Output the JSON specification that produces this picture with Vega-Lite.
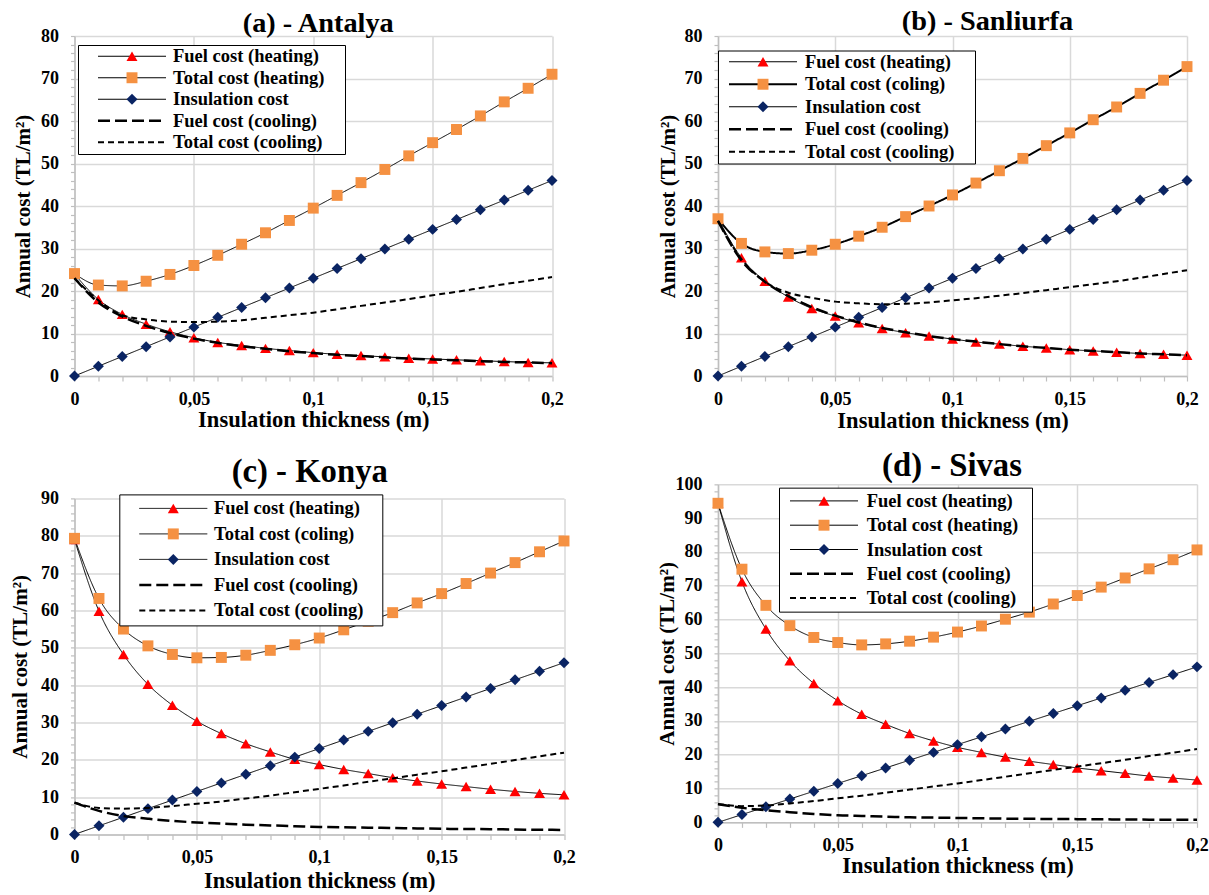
{
  "$schema": "https://vega.github.io/schema/vega-lite/v6.json",
  "background": "white",
  "padding": {"left": 8.5, "top": 6, "right": 0, "bottom": 0},
  "datasets": {
    "antalya": [
      {"thickness": 0, "fuelHeating": 24.0, "totalHeating": 24.1, "insulation": 0, "fuelCooling": 23.0, "totalCooling": 23.0},
      {"thickness": 0.01, "fuelHeating": 18.0, "totalHeating": 21.4, "insulation": 2.3, "fuelCooling": 17.3, "totalCooling": 17.8},
      {"thickness": 0.02, "fuelHeating": 14.5, "totalHeating": 21.2, "insulation": 4.6, "fuelCooling": 14.0, "totalCooling": 14.3},
      {"thickness": 0.03, "fuelHeating": 12.2, "totalHeating": 22.3, "insulation": 6.9, "fuelCooling": 11.8, "totalCooling": 13.3},
      {"thickness": 0.04, "fuelHeating": 10.4, "totalHeating": 23.9, "insulation": 9.2, "fuelCooling": 10.1, "totalCooling": 12.8},
      {"thickness": 0.05, "fuelHeating": 9.0, "totalHeating": 26.0, "insulation": 11.5, "fuelCooling": 8.8, "totalCooling": 12.7},
      {"thickness": 0.06, "fuelHeating": 7.9, "totalHeating": 28.4, "insulation": 13.8, "fuelCooling": 7.8, "totalCooling": 12.8},
      {"thickness": 0.07, "fuelHeating": 7.2, "totalHeating": 31.0, "insulation": 16.1, "fuelCooling": 7.0, "totalCooling": 13.1},
      {"thickness": 0.08, "fuelHeating": 6.5, "totalHeating": 33.7, "insulation": 18.4, "fuelCooling": 6.4, "totalCooling": 13.7},
      {"thickness": 0.09, "fuelHeating": 6.0, "totalHeating": 36.6, "insulation": 20.7, "fuelCooling": 5.8, "totalCooling": 14.3},
      {"thickness": 0.1, "fuelHeating": 5.5, "totalHeating": 39.5, "insulation": 23.0, "fuelCooling": 5.4, "totalCooling": 14.9},
      {"thickness": 0.11, "fuelHeating": 5.1, "totalHeating": 42.5, "insulation": 25.3, "fuelCooling": 5.0, "totalCooling": 15.7},
      {"thickness": 0.12, "fuelHeating": 4.8, "totalHeating": 45.5, "insulation": 27.6, "fuelCooling": 4.7, "totalCooling": 16.5},
      {"thickness": 0.13, "fuelHeating": 4.5, "totalHeating": 48.6, "insulation": 29.9, "fuelCooling": 4.4, "totalCooling": 17.3},
      {"thickness": 0.14, "fuelHeating": 4.2, "totalHeating": 51.8, "insulation": 32.2, "fuelCooling": 4.1, "totalCooling": 18.1},
      {"thickness": 0.15, "fuelHeating": 4.0, "totalHeating": 54.9, "insulation": 34.5, "fuelCooling": 3.9, "totalCooling": 19.0},
      {"thickness": 0.16, "fuelHeating": 3.8, "totalHeating": 58.0, "insulation": 36.8, "fuelCooling": 3.7, "totalCooling": 19.8},
      {"thickness": 0.17, "fuelHeating": 3.6, "totalHeating": 61.2, "insulation": 39.1, "fuelCooling": 3.5, "totalCooling": 20.7},
      {"thickness": 0.18, "fuelHeating": 3.4, "totalHeating": 64.5, "insulation": 41.4, "fuelCooling": 3.3, "totalCooling": 21.6},
      {"thickness": 0.19, "fuelHeating": 3.2, "totalHeating": 67.7, "insulation": 43.7, "fuelCooling": 3.2, "totalCooling": 22.4},
      {"thickness": 0.2, "fuelHeating": 3.1, "totalHeating": 71.0, "insulation": 46.0, "fuelCooling": 3.0, "totalCooling": 23.3}
    ],
    "sanliurfa": [
      {"thickness": 0, "fuelHeating": 37.0, "totalHeating": 37.0, "insulation": 0, "fuelCooling": 36.5, "totalCooling": 36.5},
      {"thickness": 0.01, "fuelHeating": 27.8, "totalHeating": 31.2, "insulation": 2.3, "fuelCooling": 27.2, "totalCooling": 27.5},
      {"thickness": 0.02, "fuelHeating": 22.3, "totalHeating": 29.2, "insulation": 4.6, "fuelCooling": 22.2, "totalCooling": 22.2},
      {"thickness": 0.03, "fuelHeating": 18.6, "totalHeating": 28.8, "insulation": 6.9, "fuelCooling": 18.8, "totalCooling": 19.6},
      {"thickness": 0.04, "fuelHeating": 15.9, "totalHeating": 29.6, "insulation": 9.2, "fuelCooling": 16.2, "totalCooling": 18.4},
      {"thickness": 0.05, "fuelHeating": 14.1, "totalHeating": 31.0, "insulation": 11.5, "fuelCooling": 14.2, "totalCooling": 17.5},
      {"thickness": 0.06, "fuelHeating": 12.5, "totalHeating": 32.9, "insulation": 13.8, "fuelCooling": 12.6, "totalCooling": 17.1},
      {"thickness": 0.07, "fuelHeating": 11.2, "totalHeating": 35.0, "insulation": 16.1, "fuelCooling": 11.3, "totalCooling": 16.9},
      {"thickness": 0.08, "fuelHeating": 10.2, "totalHeating": 37.5, "insulation": 18.4, "fuelCooling": 10.3, "totalCooling": 17.0},
      {"thickness": 0.09, "fuelHeating": 9.4, "totalHeating": 40.0, "insulation": 20.7, "fuelCooling": 9.4, "totalCooling": 17.3},
      {"thickness": 0.1, "fuelHeating": 8.7, "totalHeating": 42.6, "insulation": 23.0, "fuelCooling": 8.7, "totalCooling": 17.8},
      {"thickness": 0.11, "fuelHeating": 8.0, "totalHeating": 45.4, "insulation": 25.3, "fuelCooling": 8.1, "totalCooling": 18.3},
      {"thickness": 0.12, "fuelHeating": 7.5, "totalHeating": 48.3, "insulation": 27.6, "fuelCooling": 7.5, "totalCooling": 18.9},
      {"thickness": 0.13, "fuelHeating": 7.0, "totalHeating": 51.2, "insulation": 29.9, "fuelCooling": 7.0, "totalCooling": 19.5},
      {"thickness": 0.14, "fuelHeating": 6.6, "totalHeating": 54.2, "insulation": 32.2, "fuelCooling": 6.6, "totalCooling": 20.2},
      {"thickness": 0.15, "fuelHeating": 6.2, "totalHeating": 57.2, "insulation": 34.5, "fuelCooling": 6.2, "totalCooling": 20.9},
      {"thickness": 0.16, "fuelHeating": 5.9, "totalHeating": 60.3, "insulation": 36.8, "fuelCooling": 5.9, "totalCooling": 21.6},
      {"thickness": 0.17, "fuelHeating": 5.6, "totalHeating": 63.3, "insulation": 39.1, "fuelCooling": 5.6, "totalCooling": 22.3},
      {"thickness": 0.18, "fuelHeating": 5.3, "totalHeating": 66.5, "insulation": 41.4, "fuelCooling": 5.3, "totalCooling": 23.1},
      {"thickness": 0.19, "fuelHeating": 5.1, "totalHeating": 69.6, "insulation": 43.7, "fuelCooling": 5.1, "totalCooling": 24.0},
      {"thickness": 0.2, "fuelHeating": 4.9, "totalHeating": 72.8, "insulation": 46.0, "fuelCooling": 4.9, "totalCooling": 24.9}
    ],
    "konya": [
      {"thickness": 0, "fuelHeating": 79.0, "totalHeating": 79.3, "insulation": 0, "fuelCooling": 8.5, "totalCooling": 8.5},
      {"thickness": 0.01, "fuelHeating": 59.8, "totalHeating": 63.2, "insulation": 2.3, "fuelCooling": 6.3, "totalCooling": 7.1},
      {"thickness": 0.02, "fuelHeating": 48.2, "totalHeating": 55.0, "insulation": 4.6, "fuelCooling": 4.9, "totalCooling": 6.9},
      {"thickness": 0.03, "fuelHeating": 40.2, "totalHeating": 50.5, "insulation": 6.9, "fuelCooling": 4.2, "totalCooling": 7.1},
      {"thickness": 0.04, "fuelHeating": 34.6, "totalHeating": 48.2, "insulation": 9.2, "fuelCooling": 3.6, "totalCooling": 7.6},
      {"thickness": 0.05, "fuelHeating": 30.3, "totalHeating": 47.3, "insulation": 11.5, "fuelCooling": 3.2, "totalCooling": 8.2},
      {"thickness": 0.06, "fuelHeating": 27.0, "totalHeating": 47.4, "insulation": 13.8, "fuelCooling": 2.9, "totalCooling": 8.8},
      {"thickness": 0.07, "fuelHeating": 24.3, "totalHeating": 48.0, "insulation": 16.1, "fuelCooling": 2.6, "totalCooling": 9.6},
      {"thickness": 0.08, "fuelHeating": 22.1, "totalHeating": 49.3, "insulation": 18.4, "fuelCooling": 2.4, "totalCooling": 10.4},
      {"thickness": 0.09, "fuelHeating": 20.1, "totalHeating": 50.8, "insulation": 20.7, "fuelCooling": 2.2, "totalCooling": 11.3},
      {"thickness": 0.1, "fuelHeating": 18.7, "totalHeating": 52.6, "insulation": 23.0, "fuelCooling": 2.0, "totalCooling": 12.2},
      {"thickness": 0.11, "fuelHeating": 17.4, "totalHeating": 54.8, "insulation": 25.3, "fuelCooling": 1.9, "totalCooling": 13.1},
      {"thickness": 0.12, "fuelHeating": 16.3, "totalHeating": 57.1, "insulation": 27.6, "fuelCooling": 1.8, "totalCooling": 14.1},
      {"thickness": 0.13, "fuelHeating": 15.2, "totalHeating": 59.4, "insulation": 29.9, "fuelCooling": 1.7, "totalCooling": 15.0},
      {"thickness": 0.14, "fuelHeating": 14.3, "totalHeating": 62.0, "insulation": 32.2, "fuelCooling": 1.6, "totalCooling": 16.0},
      {"thickness": 0.15, "fuelHeating": 13.5, "totalHeating": 64.5, "insulation": 34.5, "fuelCooling": 1.5, "totalCooling": 16.9},
      {"thickness": 0.16, "fuelHeating": 12.8, "totalHeating": 67.2, "insulation": 36.8, "fuelCooling": 1.45, "totalCooling": 17.9},
      {"thickness": 0.17, "fuelHeating": 12.1, "totalHeating": 70.0, "insulation": 39.1, "fuelCooling": 1.4, "totalCooling": 18.9},
      {"thickness": 0.18, "fuelHeating": 11.5, "totalHeating": 72.8, "insulation": 41.4, "fuelCooling": 1.3, "totalCooling": 19.9},
      {"thickness": 0.19, "fuelHeating": 11.0, "totalHeating": 75.7, "insulation": 43.7, "fuelCooling": 1.25, "totalCooling": 20.9},
      {"thickness": 0.2, "fuelHeating": 10.6, "totalHeating": 78.6, "insulation": 46.0, "fuelCooling": 1.2, "totalCooling": 21.9}
    ],
    "sivas": [
      {"thickness": 0, "fuelHeating": 94.4, "totalHeating": 94.4, "insulation": 0, "fuelCooling": 5.4, "totalCooling": 5.4},
      {"thickness": 0.01, "fuelHeating": 71.2, "totalHeating": 74.9, "insulation": 2.3, "fuelCooling": 4.3, "totalCooling": 4.8},
      {"thickness": 0.02, "fuelHeating": 57.2, "totalHeating": 64.2, "insulation": 4.6, "fuelCooling": 3.6, "totalCooling": 5.0},
      {"thickness": 0.03, "fuelHeating": 47.8, "totalHeating": 58.2, "insulation": 6.9, "fuelCooling": 3.0, "totalCooling": 5.6},
      {"thickness": 0.04, "fuelHeating": 41.1, "totalHeating": 54.7, "insulation": 9.2, "fuelCooling": 2.5, "totalCooling": 6.3},
      {"thickness": 0.05, "fuelHeating": 36.0, "totalHeating": 53.2, "insulation": 11.5, "fuelCooling": 2.1, "totalCooling": 7.1},
      {"thickness": 0.06, "fuelHeating": 32.0, "totalHeating": 52.5, "insulation": 13.8, "fuelCooling": 1.9, "totalCooling": 7.9},
      {"thickness": 0.07, "fuelHeating": 29.0, "totalHeating": 52.8, "insulation": 16.1, "fuelCooling": 1.7, "totalCooling": 8.8},
      {"thickness": 0.08, "fuelHeating": 26.3, "totalHeating": 53.6, "insulation": 18.4, "fuelCooling": 1.5, "totalCooling": 9.7},
      {"thickness": 0.09, "fuelHeating": 24.1, "totalHeating": 54.8, "insulation": 20.7, "fuelCooling": 1.4, "totalCooling": 10.6},
      {"thickness": 0.1, "fuelHeating": 22.2, "totalHeating": 56.3, "insulation": 23.0, "fuelCooling": 1.3, "totalCooling": 11.5},
      {"thickness": 0.11, "fuelHeating": 20.7, "totalHeating": 58.1, "insulation": 25.3, "fuelCooling": 1.2, "totalCooling": 12.5},
      {"thickness": 0.12, "fuelHeating": 19.3, "totalHeating": 60.1, "insulation": 27.6, "fuelCooling": 1.1, "totalCooling": 13.5},
      {"thickness": 0.13, "fuelHeating": 18.1, "totalHeating": 62.2, "insulation": 29.9, "fuelCooling": 1.05, "totalCooling": 14.5},
      {"thickness": 0.14, "fuelHeating": 17.1, "totalHeating": 64.6, "insulation": 32.2, "fuelCooling": 1.0, "totalCooling": 15.5},
      {"thickness": 0.15, "fuelHeating": 16.1, "totalHeating": 67.1, "insulation": 34.5, "fuelCooling": 0.95, "totalCooling": 16.5},
      {"thickness": 0.16, "fuelHeating": 15.3, "totalHeating": 69.6, "insulation": 36.8, "fuelCooling": 0.9, "totalCooling": 17.5},
      {"thickness": 0.17, "fuelHeating": 14.5, "totalHeating": 72.3, "insulation": 39.1, "fuelCooling": 0.85, "totalCooling": 18.5},
      {"thickness": 0.18, "fuelHeating": 13.7, "totalHeating": 75.0, "insulation": 41.4, "fuelCooling": 0.8, "totalCooling": 19.6},
      {"thickness": 0.19, "fuelHeating": 13.1, "totalHeating": 77.7, "insulation": 43.7, "fuelCooling": 0.8, "totalCooling": 20.6},
      {"thickness": 0.2, "fuelHeating": 12.5, "totalHeating": 80.6, "insulation": 46.0, "fuelCooling": 0.75, "totalCooling": 21.7}
    ]
  },
  "spacing": 80.5,
  "align": "none",
  "resolve": {
    "scale": {"color": "independent", "fill": "independent", "shape": "independent", "strokeDash": "independent", "strokeWidth": "independent"},
    "legend": {"color": "independent", "fill": "independent", "shape": "independent", "strokeDash": "independent", "strokeWidth": "independent"}
  },
  "hconcat": [
    {
      "align": "none",
      "spacing": 24.4,
      "resolve": {
        "scale": {"color": "independent", "fill": "independent", "shape": "independent", "strokeDash": "independent", "strokeWidth": "independent"},
        "legend": {"color": "independent", "fill": "independent", "shape": "independent", "strokeDash": "independent", "strokeWidth": "independent"}
      },
      "vconcat": [
        {
          "title": {"text": "(a) - Antalya", "dx": 5, "offset": -11.65, "fontSize": 28.3},
          "width": 477.5,
          "height": 340,
          "data": {"name": "antalya"},
          "transform": [{"fold": ["fuelHeating", "totalHeating", "insulation", "fuelCooling", "totalCooling"], "as": ["series", "cost"]}],
          "encoding": {
            "x": {
              "field": "thickness", "type": "quantitative",
              "scale": {"domain": [0, 0.2], "nice": false, "zero": false},
              "axis": {
                "title": "Insulation thickness (m)", "titlePadding": 0,
                "values": [0, 0.01, 0.02, 0.03, 0.04, 0.05, 0.06, 0.07, 0.08, 0.09, 0.1, 0.11, 0.12, 0.13, 0.14, 0.15, 0.16, 0.17, 0.18, 0.19, 0.2],
                "labelExpr": "abs(datum.value * 20 - round(datum.value * 20)) < 0.000001 ? replace(format(datum.value, '.2~f'), '.', ',') : ''",
                "gridOpacity": {"condition": {"test": "abs(datum.value * 20 - round(datum.value * 20)) > 0.000001", "value": 0}, "value": 1}
              }
            },
            "y": {
              "field": "cost", "type": "quantitative",
              "scale": {"domain": [0, 80], "nice": false},
              "axis": {
                "title": "Annual cost (TL/m²)", "titlePadding": 7.5,
                "values": [0, 2, 4, 6, 8, 10, 12, 14, 16, 18, 20, 22, 24, 26, 28, 30, 32, 34, 36, 38, 40, 42, 44, 46, 48, 50, 52, 54, 56, 58, 60, 62, 64, 66, 68, 70, 72, 74, 76, 78, 80],
                "labelExpr": "datum.value % 10 == 0 ? datum.label : ''",
                "gridOpacity": {"condition": {"test": "datum.value % 10 != 0", "value": 0}, "value": 1}
              }
            }
          },
          "layer": [
            {
              "transform": [{"filter": {"field": "series", "oneOf": ["fuelHeating", "totalHeating", "insulation"]}}],
              "mark": {"type": "line", "interpolate": "monotone"},
              "encoding": {
                "color": {
                  "field": "series", "type": "nominal",
                  "scale": {"domain": ["fuelHeating", "totalHeating", "insulation", "fuelCooling", "totalCooling"], "range": ["#000000", "#000000", "#000000", "#000000", "#000000"]},
                  "legend": {
                    "title": null, "orient": "none", "legendX": 3.5, "legendY": 9, "padding": 2,
                    "symbolType": "M-6.8,0H6.8", "symbolSize": 100, "symbolOffset": 42.75,
                    "labelOffset": 31.75, "rowPadding": 2.5,
                    "fillColor": "#FFFFFF", "strokeColor": "#000000",
                    "labelExpr": "(datum.value == 'fuelHeating' ? 'Fuel cost (heating)' : datum.value == 'totalHeating' ? 'Total cost (heating)' : datum.value == 'insulation' ? 'Insulation cost' : datum.value == 'fuelCooling' ? 'Fuel cost (cooling)' : 'Total cost (cooling)') + '\u2002\u2002\u200b'",
                    "encode": {"legend": {"strokeWidth": {"value": 2}}}
                  }
                },
                "strokeDash": {"field": "series", "type": "nominal", "scale": {"domain": ["fuelHeating", "totalHeating", "insulation", "fuelCooling", "totalCooling"], "range": [[1, 0], [1, 0], [1, 0], [12, 5], [6, 4]]}},
                "strokeWidth": {"field": "series", "type": "nominal", "scale": {"type": "ordinal", "domain": ["fuelHeating", "totalHeating", "insulation", "fuelCooling", "totalCooling"], "range": [1, 1, 1, 2.5, 2]}}
              }
            },
            {
              "transform": [{"filter": {"field": "series", "oneOf": ["fuelHeating", "totalHeating", "insulation"]}}],
              "mark": {"type": "point", "filled": true, "size": 120, "opacity": 1},
              "encoding": {
                "fill": {
                  "field": "series", "type": "nominal",
                  "scale": {"domain": ["fuelHeating", "totalHeating", "insulation"], "range": ["#FF0000", "#F59142", "#0A2463"]},
                  "legend": {
                    "title": null, "orient": "none", "legendX": 3.5, "legendY": 9, "padding": 2,
                    "symbolSize": 120, "symbolOffset": 42.75, "labelOffset": 31.75, "rowPadding": 2.5,
                    "labelExpr": "''"
                  }
                },
                "shape": {"field": "series", "type": "nominal", "scale": {"domain": ["fuelHeating", "totalHeating", "insulation"], "range": ["triangle-up", "square", "diamond"]}}
              }
            },
            {
              "transform": [{"filter": {"field": "series", "oneOf": ["fuelCooling", "totalCooling"]}}],
              "mark": {"type": "line", "interpolate": "monotone"},
              "encoding": {
                "color": {"field": "series", "type": "nominal", "scale": {"domain": ["fuelHeating", "totalHeating", "insulation", "fuelCooling", "totalCooling"], "range": ["#000000", "#000000", "#000000", "#000000", "#000000"]}},
                "strokeDash": {"field": "series", "type": "nominal", "scale": {"domain": ["fuelHeating", "totalHeating", "insulation", "fuelCooling", "totalCooling"], "range": [[1, 0], [1, 0], [1, 0], [12, 5], [6, 4]]}},
                "strokeWidth": {"field": "series", "type": "nominal", "scale": {"type": "ordinal", "domain": ["fuelHeating", "totalHeating", "insulation", "fuelCooling", "totalCooling"], "range": [1, 1, 1, 2.5, 2]}}
              }
            }
          ]
        },
        {
          "title": {"text": "(c) - Konya", "dx": -9.5, "offset": 1.15, "fontSize": 32.7},
          "width": 489.5,
          "height": 336,
          "data": {"name": "konya"},
          "transform": [{"fold": ["fuelHeating", "totalHeating", "insulation", "fuelCooling", "totalCooling"], "as": ["series", "cost"]}],
          "encoding": {
            "x": {
              "field": "thickness", "type": "quantitative",
              "scale": {"domain": [0, 0.2], "nice": false, "zero": false},
              "axis": {
                "title": "Insulation thickness (m)", "titlePadding": 3,
                "values": [0, 0.01, 0.02, 0.03, 0.04, 0.05, 0.06, 0.07, 0.08, 0.09, 0.1, 0.11, 0.12, 0.13, 0.14, 0.15, 0.16, 0.17, 0.18, 0.19, 0.2],
                "labelExpr": "abs(datum.value * 20 - round(datum.value * 20)) < 0.000001 ? replace(format(datum.value, '.2~f'), '.', ',') : ''",
                "gridOpacity": {"condition": {"test": "abs(datum.value * 20 - round(datum.value * 20)) > 0.000001", "value": 0}, "value": 1}
              }
            },
            "y": {
              "field": "cost", "type": "quantitative",
              "scale": {"domain": [0, 90], "nice": false},
              "axis": {
                "title": "Annual cost (TL/m²)", "titlePadding": 10.5,
                "values": [0, 2, 4, 6, 8, 10, 12, 14, 16, 18, 20, 22, 24, 26, 28, 30, 32, 34, 36, 38, 40, 42, 44, 46, 48, 50, 52, 54, 56, 58, 60, 62, 64, 66, 68, 70, 72, 74, 76, 78, 80, 82, 84, 86, 88, 90],
                "labelExpr": "datum.value % 10 == 0 ? datum.label : ''",
                "gridOpacity": {"condition": {"test": "datum.value % 10 != 0", "value": 0}, "value": 1}
              }
            }
          },
          "layer": [
            {
              "transform": [{"filter": {"field": "series", "oneOf": ["fuelHeating", "totalHeating", "insulation"]}}],
              "mark": {"type": "line", "interpolate": "monotone"},
              "encoding": {
                "color": {
                  "field": "series", "type": "nominal",
                  "scale": {"domain": ["fuelHeating", "totalHeating", "insulation", "fuelCooling", "totalCooling"], "range": ["#000000", "#000000", "#000000", "#000000", "#000000"]},
                  "legend": {
                    "title": null, "orient": "none", "legendX": 44.8, "legendY": -4, "padding": 4.75,
                    "symbolType": "M-6.8,0H6.8", "symbolSize": 100, "symbolOffset": 40,
                    "labelOffset": 31.45, "rowPadding": 6.5,
                    "fillColor": "#FFFFFF", "strokeColor": "#000000",
                    "labelExpr": "(datum.value == 'fuelHeating' ? 'Fuel cost (heating)' : datum.value == 'totalHeating' ? 'Total cost (coling)' : datum.value == 'insulation' ? 'Insulation cost' : datum.value == 'fuelCooling' ? 'Fuel cost (cooling)' : 'Total cost (cooling)') + '\u2002\u00a0\u200b'",
                    "encode": {"legend": {"strokeWidth": {"value": 2}}}
                  }
                },
                "strokeDash": {"field": "series", "type": "nominal", "scale": {"domain": ["fuelHeating", "totalHeating", "insulation", "fuelCooling", "totalCooling"], "range": [[1, 0], [1, 0], [1, 0], [12, 5], [6, 4]]}},
                "strokeWidth": {"field": "series", "type": "nominal", "scale": {"type": "ordinal", "domain": ["fuelHeating", "totalHeating", "insulation", "fuelCooling", "totalCooling"], "range": [1, 1, 1, 2.5, 2]}}
              }
            },
            {
              "transform": [{"filter": {"field": "series", "oneOf": ["fuelHeating", "totalHeating", "insulation"]}}],
              "mark": {"type": "point", "filled": true, "size": 120, "opacity": 1},
              "encoding": {
                "fill": {
                  "field": "series", "type": "nominal",
                  "scale": {"domain": ["fuelHeating", "totalHeating", "insulation"], "range": ["#FF0000", "#F59142", "#0A2463"]},
                  "legend": {
                    "title": null, "orient": "none", "legendX": 44.8, "legendY": -4, "padding": 4.75,
                    "symbolSize": 120, "symbolOffset": 40, "labelOffset": 31.45, "rowPadding": 6.5,
                    "labelExpr": "''"
                  }
                },
                "shape": {"field": "series", "type": "nominal", "scale": {"domain": ["fuelHeating", "totalHeating", "insulation"], "range": ["triangle-up", "square", "diamond"]}}
              }
            },
            {
              "transform": [{"filter": {"field": "series", "oneOf": ["fuelCooling", "totalCooling"]}}],
              "mark": {"type": "line", "interpolate": "monotone"},
              "encoding": {
                "color": {"field": "series", "type": "nominal", "scale": {"domain": ["fuelHeating", "totalHeating", "insulation", "fuelCooling", "totalCooling"], "range": ["#000000", "#000000", "#000000", "#000000", "#000000"]}},
                "strokeDash": {"field": "series", "type": "nominal", "scale": {"domain": ["fuelHeating", "totalHeating", "insulation", "fuelCooling", "totalCooling"], "range": [[1, 0], [1, 0], [1, 0], [12, 5], [6, 4]]}},
                "strokeWidth": {"field": "series", "type": "nominal", "scale": {"type": "ordinal", "domain": ["fuelHeating", "totalHeating", "insulation", "fuelCooling", "totalCooling"], "range": [1, 1, 1, 2.5, 2]}}
              }
            }
          ]
        }
      ]
    },
    {
      "align": "none",
      "spacing": 17.35,
      "resolve": {
        "scale": {"color": "independent", "fill": "independent", "shape": "independent", "strokeDash": "independent", "strokeWidth": "independent"},
        "legend": {"color": "independent", "fill": "independent", "shape": "independent", "strokeDash": "independent", "strokeWidth": "independent"}
      },
      "vconcat": [
        {
          "title": {"text": "(b) - Sanliurfa", "dx": 35, "offset": -9.15, "fontSize": 28.3},
          "width": 469,
          "height": 340,
          "data": {"name": "sanliurfa"},
          "transform": [{"fold": ["fuelHeating", "totalHeating", "insulation", "fuelCooling", "totalCooling"], "as": ["series", "cost"]}],
          "encoding": {
            "x": {
              "field": "thickness", "type": "quantitative",
              "scale": {"domain": [0, 0.2], "nice": false, "zero": false},
              "axis": {
                "title": "Insulation thickness (m)", "titlePadding": 1,
                "values": [0, 0.01, 0.02, 0.03, 0.04, 0.05, 0.06, 0.07, 0.08, 0.09, 0.1, 0.11, 0.12, 0.13, 0.14, 0.15, 0.16, 0.17, 0.18, 0.19, 0.2],
                "labelExpr": "abs(datum.value * 20 - round(datum.value * 20)) < 0.000001 ? replace(format(datum.value, '.2~f'), '.', ',') : ''",
                "gridOpacity": {"condition": {"test": "abs(datum.value * 20 - round(datum.value * 20)) > 0.000001", "value": 0}, "value": 1}
              }
            },
            "y": {
              "field": "cost", "type": "quantitative",
              "scale": {"domain": [0, 80], "nice": false},
              "axis": {
                "title": "Annual cost (TL/m²)", "titlePadding": 5.4,
                "values": [0, 2, 4, 6, 8, 10, 12, 14, 16, 18, 20, 22, 24, 26, 28, 30, 32, 34, 36, 38, 40, 42, 44, 46, 48, 50, 52, 54, 56, 58, 60, 62, 64, 66, 68, 70, 72, 74, 76, 78, 80],
                "labelExpr": "datum.value % 10 == 0 ? datum.label : ''",
                "gridOpacity": {"condition": {"test": "datum.value % 10 != 0", "value": 0}, "value": 1}
              }
            }
          },
          "layer": [
            {
              "transform": [{"filter": {"field": "series", "oneOf": ["fuelHeating", "totalHeating", "insulation"]}}],
              "mark": {"type": "line", "interpolate": "monotone"},
              "encoding": {
                "color": {
                  "field": "series", "type": "nominal",
                  "scale": {"domain": ["fuelHeating", "totalHeating", "insulation", "fuelCooling", "totalCooling"], "range": ["#000000", "#000000", "#000000", "#000000", "#000000"]},
                  "legend": {
                    "title": null, "orient": "none", "legendX": 0, "legendY": 14.5, "padding": 2,
                    "symbolType": "M-6.8,0H6.8", "symbolSize": 100, "symbolOffset": 33.75,
                    "labelOffset": 32.75, "rowPadding": 3.5,
                    "fillColor": "#FFFFFF", "strokeColor": "#000000",
                    "labelExpr": "(datum.value == 'fuelHeating' ? 'Fuel cost (heating)' : datum.value == 'totalHeating' ? 'Total cost (coling)' : datum.value == 'insulation' ? 'Insulation cost' : datum.value == 'fuelCooling' ? 'Fuel cost (cooling)' : 'Total cost (cooling)') + '\u2002\u2002\u200b'",
                    "encode": {"legend": {"strokeWidth": {"value": 2}}}
                  }
                },
                "strokeDash": {"field": "series", "type": "nominal", "scale": {"domain": ["fuelHeating", "totalHeating", "insulation", "fuelCooling", "totalCooling"], "range": [[1, 0], [1, 0], [1, 0], [12, 5], [6, 4]]}},
                "strokeWidth": {"field": "series", "type": "nominal", "scale": {"type": "ordinal", "domain": ["fuelHeating", "totalHeating", "insulation", "fuelCooling", "totalCooling"], "range": [1, 2, 1, 2.5, 2]}}
              }
            },
            {
              "transform": [{"filter": {"field": "series", "oneOf": ["fuelHeating", "totalHeating", "insulation"]}}],
              "mark": {"type": "point", "filled": true, "size": 120, "opacity": 1},
              "encoding": {
                "fill": {
                  "field": "series", "type": "nominal",
                  "scale": {"domain": ["fuelHeating", "totalHeating", "insulation"], "range": ["#FF0000", "#F59142", "#0A2463"]},
                  "legend": {
                    "title": null, "orient": "none", "legendX": 0, "legendY": 14.5, "padding": 2,
                    "symbolSize": 120, "symbolOffset": 33.75, "labelOffset": 32.75, "rowPadding": 3.5,
                    "labelExpr": "''"
                  }
                },
                "shape": {"field": "series", "type": "nominal", "scale": {"domain": ["fuelHeating", "totalHeating", "insulation"], "range": ["triangle-up", "square", "diamond"]}}
              }
            },
            {
              "transform": [{"filter": {"field": "series", "oneOf": ["fuelCooling", "totalCooling"]}}],
              "mark": {"type": "line", "interpolate": "monotone"},
              "encoding": {
                "color": {"field": "series", "type": "nominal", "scale": {"domain": ["fuelHeating", "totalHeating", "insulation", "fuelCooling", "totalCooling"], "range": ["#000000", "#000000", "#000000", "#000000", "#000000"]}},
                "strokeDash": {"field": "series", "type": "nominal", "scale": {"domain": ["fuelHeating", "totalHeating", "insulation", "fuelCooling", "totalCooling"], "range": [[1, 0], [1, 0], [1, 0], [12, 5], [6, 4]]}},
                "strokeWidth": {"field": "series", "type": "nominal", "scale": {"type": "ordinal", "domain": ["fuelHeating", "totalHeating", "insulation", "fuelCooling", "totalCooling"], "range": [1, 2, 1, 2.5, 2]}}
              }
            }
          ]
        },
        {
          "title": {"text": "(d) - Sivas", "dx": -5.5, "offset": -7.55, "fontSize": 32.7},
          "width": 479,
          "height": 338,
          "data": {"name": "sivas"},
          "transform": [{"fold": ["fuelHeating", "totalHeating", "insulation", "fuelCooling", "totalCooling"], "as": ["series", "cost"]}],
          "encoding": {
            "x": {
              "field": "thickness", "type": "quantitative",
              "scale": {"domain": [0, 0.2], "nice": false, "zero": false},
              "axis": {
                "title": "Insulation thickness (m)", "titlePadding": 0,
                "values": [0, 0.01, 0.02, 0.03, 0.04, 0.05, 0.06, 0.07, 0.08, 0.09, 0.1, 0.11, 0.12, 0.13, 0.14, 0.15, 0.16, 0.17, 0.18, 0.19, 0.2],
                "labelExpr": "abs(datum.value * 20 - round(datum.value * 20)) < 0.000001 ? replace(format(datum.value, '.2~f'), '.', ',') : ''",
                "gridOpacity": {"condition": {"test": "abs(datum.value * 20 - round(datum.value * 20)) > 0.000001", "value": 0}, "value": 1}
              }
            },
            "y": {
              "field": "cost", "type": "quantitative",
              "scale": {"domain": [0, 100], "nice": false},
              "axis": {
                "title": "Annual cost (TL/m²)", "titlePadding": -2,
                "values": [0, 2, 4, 6, 8, 10, 12, 14, 16, 18, 20, 22, 24, 26, 28, 30, 32, 34, 36, 38, 40, 42, 44, 46, 48, 50, 52, 54, 56, 58, 60, 62, 64, 66, 68, 70, 72, 74, 76, 78, 80, 82, 84, 86, 88, 90, 92, 94, 96, 98, 100],
                "labelExpr": "datum.value % 10 == 0 ? datum.label : ''",
                "gridOpacity": {"condition": {"test": "datum.value % 10 != 0", "value": 0}, "value": 1}
              }
            }
          },
          "layer": [
            {
              "transform": [{"filter": {"field": "series", "oneOf": ["fuelHeating", "totalHeating", "insulation"]}}],
              "mark": {"type": "line", "interpolate": "monotone"},
              "encoding": {
                "color": {
                  "field": "series", "type": "nominal",
                  "scale": {"domain": ["fuelHeating", "totalHeating", "insulation", "fuelCooling", "totalCooling"], "range": ["#000000", "#000000", "#000000", "#000000", "#000000"]},
                  "legend": {
                    "title": null, "orient": "none", "legendX": 61, "legendY": 3.3, "padding": 4,
                    "symbolType": "M-6.8,0H6.8", "symbolSize": 100, "symbolOffset": 31.75,
                    "labelOffset": 33.45, "rowPadding": 5.3,
                    "fillColor": "#FFFFFF", "strokeColor": "#000000",
                    "labelExpr": "(datum.value == 'fuelHeating' ? 'Fuel cost (heating)' : datum.value == 'totalHeating' ? 'Total cost (heating)' : datum.value == 'insulation' ? 'Insulation cost' : datum.value == 'fuelCooling' ? 'Fuel cost (cooling)' : 'Total cost (cooling)') + '\u2002\u200b'",
                    "encode": {"legend": {"strokeWidth": {"value": 2}}}
                  }
                },
                "strokeDash": {"field": "series", "type": "nominal", "scale": {"domain": ["fuelHeating", "totalHeating", "insulation", "fuelCooling", "totalCooling"], "range": [[1, 0], [1, 0], [1, 0], [12, 5], [6, 4]]}},
                "strokeWidth": {"field": "series", "type": "nominal", "scale": {"type": "ordinal", "domain": ["fuelHeating", "totalHeating", "insulation", "fuelCooling", "totalCooling"], "range": [1, 1, 1, 2.5, 2]}}
              }
            },
            {
              "transform": [{"filter": {"field": "series", "oneOf": ["fuelHeating", "totalHeating", "insulation"]}}],
              "mark": {"type": "point", "filled": true, "size": 120, "opacity": 1},
              "encoding": {
                "fill": {
                  "field": "series", "type": "nominal",
                  "scale": {"domain": ["fuelHeating", "totalHeating", "insulation"], "range": ["#FF0000", "#F59142", "#0A2463"]},
                  "legend": {
                    "title": null, "orient": "none", "legendX": 61, "legendY": 3.3, "padding": 4,
                    "symbolSize": 120, "symbolOffset": 31.75, "labelOffset": 33.45, "rowPadding": 5.3,
                    "labelExpr": "''"
                  }
                },
                "shape": {"field": "series", "type": "nominal", "scale": {"domain": ["fuelHeating", "totalHeating", "insulation"], "range": ["triangle-up", "square", "diamond"]}}
              }
            },
            {
              "transform": [{"filter": {"field": "series", "oneOf": ["fuelCooling", "totalCooling"]}}],
              "mark": {"type": "line", "interpolate": "monotone"},
              "encoding": {
                "color": {"field": "series", "type": "nominal", "scale": {"domain": ["fuelHeating", "totalHeating", "insulation", "fuelCooling", "totalCooling"], "range": ["#000000", "#000000", "#000000", "#000000", "#000000"]}},
                "strokeDash": {"field": "series", "type": "nominal", "scale": {"domain": ["fuelHeating", "totalHeating", "insulation", "fuelCooling", "totalCooling"], "range": [[1, 0], [1, 0], [1, 0], [12, 5], [6, 4]]}},
                "strokeWidth": {"field": "series", "type": "nominal", "scale": {"type": "ordinal", "domain": ["fuelHeating", "totalHeating", "insulation", "fuelCooling", "totalCooling"], "range": [1, 1, 1, 2.5, 2]}}
              }
            }
          ]
        }
      ]
    }
  ],
  "config": {
    "font": "Liberation Serif",
    "view": {"stroke": null},
    "title": {"font": "Liberation Serif", "fontSize": 30, "fontWeight": "bold", "color": "#000000", "anchor": "middle", "frame": "group"},
    "axis": {
      "labelFont": "Liberation Serif", "labelFontSize": 18, "labelFontWeight": "bold", "labelColor": "#000000",
      "titleFont": "Liberation Serif", "titleFontSize": 21, "titleFontWeight": "bold", "titleColor": "#000000",
      "domainColor": "#BFBFBF", "domainWidth": 1.5,
      "tickColor": "#BFBFBF", "tickWidth": 1.2,
      "gridColor": "#D9D9D9", "gridWidth": 1.5,
      "labelOverlap": false, "labelFlush": false, "labelBound": false
    },
    "axisX": {"tickSize": 5, "labelPadding": 9, "titleFontSize": 22.5},
    "axisY": {"tickSize": 4, "labelPadding": 12},
    "legend": {"labelFont": "Liberation Serif", "labelFontSize": 18.5, "labelFontWeight": "bold", "labelColor": "#000000", "labelLimit": 400}
  }
}
